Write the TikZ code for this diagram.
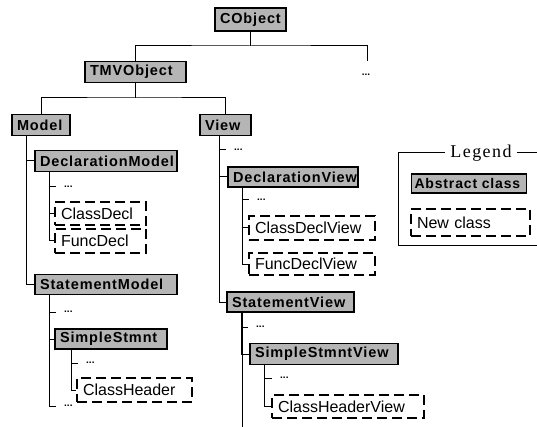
\documentclass[tikz,border=0pt]{standalone}
\usepackage{fontspec}
\setmainfont{Liberation Sans}
\newfontfamily\absfont[LetterSpace=6]{Liberation Sans}
\newfontfamily\legfont[LetterSpace=8]{Liberation Serif}
\begin{document}
\begin{tikzpicture}[x=1pt,y=-1pt,
  abs/.style={draw, line width=1.3pt, fill=gray!58, font=\fontsize{14.5}{14.5}\selectfont\absfont\bfseries,
    inner xsep=5pt, inner ysep=0pt, align=left, minimum height=21pt},
  newc/.style={draw, line width=2.3pt, dash pattern=on 10pt off 5pt, fill=white,
    font=\fontsize{16}{16}\selectfont, inner xsep=6pt, inner ysep=0pt, align=left, minimum height=24pt},
  conn/.style={line width=1pt},
  dotsn/.style={font=\fontsize{10}{10}\selectfont\bfseries, inner sep=0pt, anchor=west},
  legtitle/.style={font=\fontsize{18}{18}\selectfont\legfont, inner xsep=5pt, inner ysep=0pt, fill=white}
]
\useasboundingbox (0,0) rectangle (537,427);

% abstract classes
\node[abs, text width=61pt, minimum height=23pt] (cobj) at (250.5,19.5) {CObject};
\node[abs, text width=91pt] (tmv) at (135.5,72) {TMVObject};
\node[abs, text width=48pt] (model) at (41,125) {Model};
\node[abs, text width=41pt] (view) at (225.5,125) {View};
\node[abs, text width=132pt] (declm) at (106,161) {DeclarationModel};
\node[abs, text width=132pt, minimum height=20pt] (stm) at (106,284.5) {StatementModel};
\node[abs, text width=102pt, minimum height=20pt] (simple) at (111,339) {SimpleStmnt};
\node[abs, text width=120pt, minimum height=20pt] (declv) at (293,177) {DeclarationView};
\node[abs, text width=117pt, minimum height=20pt] (stv) at (290.5,302) {StatementView};
\node[abs, text width=138pt] (simplev) at (324,354) {SimpleStmntView};

% new classes
\node[newc, text width=79pt, minimum height=23pt] (classdecl) at (100.5,213.5) {ClassDecl};
\node[newc, text width=79pt, minimum height=24pt] (funcdecl) at (100.5,241) {FuncDecl};
\node[newc, text width=103pt] (classheader) at (134.5,390) {ClassHeader};
\node[newc, text width=114pt] (classdeclv) at (312,228) {ClassDeclView};
\node[newc, text width=114pt, minimum height=22pt] (funcdeclv) at (312,264) {FuncDeclView};
\node[newc, text width=140pt, minimum height=23pt] (classheaderv) at (348,406.5) {ClassHeaderView};

% dots
\node[dotsn, anchor=center] (d0) at (366,75) {...};
\node[dotsn] (dm1) at (64,187) {...};
\node[dotsn] (sm1) at (64,312) {...};
\node[dotsn] (sm2) at (64,406) {...};
\node[dotsn] (ss1) at (86,363) {...};
\node[dotsn] (v1) at (234,150) {...};
\node[dotsn] (dv1) at (257,200) {...};
\node[dotsn] (sv1) at (256,327) {...};
\node[dotsn] (ssv1) at (280,378) {...};

% top levels
\coordinate (b0) at (250.5,46);
\coordinate (r0) at (367,61);
\draw[conn] (cobj.south) -- (b0);
\draw[conn] (tmv.north) |- (b0) -| (r0);
\coordinate (b1) at (135.5,98);
\draw[conn] (tmv.south) -- (b1);
\draw[conn] (model.north) |- (b1) -| (view.north);

% Model subtree
\draw[conn] (model.south west) ++(15,0) |- (declm.west);
\draw[conn] (model.south west) ++(15,0) |- (stm.west);
\draw[conn, shorten >=8pt] (declm.south west) ++(15,0) |- (dm1.west);
\draw[conn] (declm.south west) ++(15,0) |- (classdecl.west);
\draw[conn] (declm.south west) ++(15,0) |- (funcdecl.west);
\draw[conn, shorten >=8pt] (stm.south west) ++(15,0) |- (sm1.west);
\draw[conn] (stm.south west) ++(15,0) |- (simple.west);
\draw[conn, shorten >=8pt] (stm.south west) ++(15,0) |- (sm2.west);
\draw[conn, shorten >=8pt] (simple.south west) ++(17,0) |- (ss1.west);
\draw[conn] (simple.south west) ++(17,0) |- (classheader.west);

% View subtree
\draw[conn, shorten >=8pt] (view.south west) ++(20,0) |- (v1.west);
\draw[conn] (view.south west) ++(20,0) |- (declv.west);
\draw[conn] (view.south west) ++(20,0) |- (stv.west);
\draw[conn, shorten >=8pt] (declv.south west) ++(15,0) |- (dv1.west);
\draw[conn] (declv.south west) ++(15,0) |- (classdeclv.west);
\draw[conn] (declv.south west) ++(15,0) |- (funcdeclv.west);
\coordinate (svend) at (242,430);
\draw[conn] (svend |- stv.south) -- (svend);
\draw[conn, shorten >=8pt] (stv.south west) ++(15,0) |- (sv1.west);
\draw[conn] (stv.south west) ++(15,0) |- (simplev.west);
\draw[conn, shorten >=8pt] (simplev.south west) ++(15,0) |- (ssv1.west);
\draw[conn] (simplev.south west) ++(15,0) |- (classheaderv.west);

% Legend
\node[legtitle] (legt) at (481,153) {Legend};
\coordinate (lgtl) at (398,153);
\coordinate (lgbl) at (398,246);
\coordinate (lgbr) at (537,246);
\coordinate (lgtr) at (537,153);
\draw[conn] (legt.west) -- (lgtl) -- (lgbl) -- (lgbr);
\draw[conn] (legt.east) -- (lgtr);
\node[abs, font=\fontsize{14}{14}\selectfont\absfont\bfseries, text width=109pt, inner xsep=3pt, minimum height=19pt] (legabs) at (469,183.5) {Abstract class};
\node[newc, text width=107pt, minimum height=27pt] (legnew) at (470.5,222.5) {New class};
\end{tikzpicture}
\end{document}
